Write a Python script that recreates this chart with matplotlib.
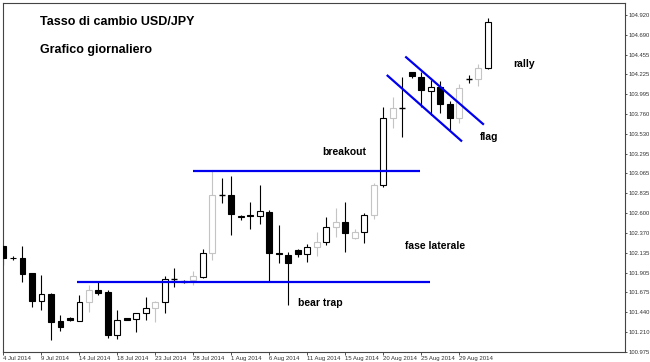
import matplotlib
matplotlib.use("Agg")
import matplotlib.pyplot as plt
from matplotlib import font_manager

# daily USD/JPY candles (open, high, low, close)
opens = [102.219, 102.075, 102.072, 101.896, 101.572, 101.654, 101.341, 101.376, 101.341, 101.557,
         101.701, 101.681, 101.174, 101.369, 101.361, 101.428, 101.486, 101.557, 101.829, 101.806,
         101.818, 101.856, 102.130, 102.813, 102.813, 102.552, 102.575, 102.567, 102.617, 102.130,
         102.110, 102.169, 102.122, 102.201, 102.259, 102.435, 102.500, 102.306, 102.376, 102.579,
         102.930, 103.711, 103.828, 104.253, 104.198, 104.034, 104.074, 103.878, 103.711, 104.171,
         104.167, 104.303]
highs = [102.228, 102.099, 102.219, 101.903, 101.876, 101.660, 101.408, 101.385, 101.642, 101.759,
         101.806, 101.701, 101.467, 101.373, 101.431, 101.622, 101.572, 101.865, 101.955, 101.812,
         101.927, 102.177, 103.097, 103.008, 103.035, 102.573, 102.734, 102.930, 102.637, 102.462,
         102.149, 102.177, 102.239, 102.383, 102.559, 102.657, 102.727, 102.415, 102.606, 102.950,
         103.843, 103.960, 104.191, 104.258, 104.256, 104.159, 104.151, 103.917, 104.112, 104.218,
         104.346, 104.881]
lows = [101.993, 102.052, 101.798, 101.505, 101.467, 101.115, 101.224, 101.343, 101.338, 101.447,
        101.642, 101.139, 101.127, 101.350, 101.212, 101.350, 101.330, 101.428, 101.740, 101.783,
        101.759, 101.838, 102.052, 102.723, 102.345, 102.520, 102.415, 102.474, 101.798, 102.013,
        101.525, 102.091, 102.032, 102.099, 102.228, 102.318, 102.149, 102.298, 102.254, 102.528,
        102.910, 103.594, 103.495, 104.179, 103.846, 103.749, 103.769, 103.574, 103.652, 104.127,
        104.089, 104.288]
closes = [102.079, 102.070, 101.885, 101.572, 101.650, 101.330, 101.271, 101.349, 101.564, 101.701,
          101.669, 101.174, 101.350, 101.353, 101.428, 101.486, 101.564, 101.826, 101.829, 101.791,
          101.865, 102.130, 102.813, 102.813, 102.587, 102.567, 102.563, 102.625, 102.130, 102.119,
          102.020, 102.122, 102.201, 102.259, 102.435, 102.500, 102.364, 102.383, 102.579, 102.930,
          103.711, 103.828, 103.828, 104.206, 104.042, 104.074, 103.878, 103.711, 104.062, 104.171,
          104.303, 104.835]

# candles drawn with a light grey outline in the original
grey_bars = [9, 16, 20, 22, 33, 35, 37, 39, 41, 48, 50]

price_ticks = [104.920, 104.690, 104.455, 104.225, 103.995, 103.760, 103.530, 103.295, 103.065,
               102.835, 102.600, 102.370, 102.135, 101.905, 101.675, 101.440, 101.210, 100.975]
date_ticks = [0, 4, 8, 12, 16, 20, 24, 28, 32, 36, 40, 44, 48]
date_labels = ["4 Jul 2014", "9 Jul 2014", "14 Jul 2014", "18 Jul 2014", "23 Jul 2014",
               "28 Jul 2014", "1 Aug 2014", "6 Aug 2014", "11 Aug 2014", "15 Aug 2014",
               "20 Aug 2014", "25 Aug 2014", "29 Aug 2014"]

# support / resistance and flag channel (bar index, price)
resistance = 103.097
resistance_x = [20.0, 43.9]
support = 101.789
support_x = [7.7, 44.9]
flag_top_x = [42.4, 50.5]
flag_top_y = [104.425, 103.644]
flag_bot_x = [40.45, 48.2]
flag_bot_y = [104.209, 103.448]

plt.rcParams['font.family'] = ['Liberation Sans', 'DejaVu Sans']

# narrow face for the tiny axis labels, if it is there
names = {f.name for f in font_manager.fontManager.ttflist}
tick_font = 'Liberation Sans Narrow' if 'Liberation Sans Narrow' in names else 'Liberation Sans'

fig = plt.figure(figsize=(6.5, 3.62), dpi=100)
ax = fig.add_axes([3/650, 10/362, 622/650, 349/362])

w = 0.62
for i in range(len(opens)):
    o, h, l, c = opens[i], highs[i], lows[i], closes[i]
    edge = '#c4c4c4' if i in grey_bars else 'black'
    ax.vlines(i, l, h, color=edge, lw=0.8, zorder=2)
    if abs(c - o) < 0.005:
        ax.hlines(c, i - w/2, i + w/2, color=edge, lw=1.0, zorder=3)
    elif c < o:
        ax.bar(i, o - c, bottom=c, width=w, color='black', edgecolor='black', lw=0.8, zorder=3)
    else:
        ax.bar(i, c - o, bottom=o, width=w, color='white', edgecolor=edge, lw=0.8, zorder=3)

blue = '#0000ee'
ax.hlines(resistance, resistance_x[0], resistance_x[1], color=blue, lw=1.6, zorder=4)
ax.hlines(support, support_x[0], support_x[1], color=blue, lw=1.6, zorder=4)
ax.plot(flag_top_x, flag_top_y, color=blue, lw=1.6, zorder=4)
ax.plot(flag_bot_x, flag_bot_y, color=blue, lw=1.6, zorder=4)

ax.set_xlim(-0.05, 65.45)
ax.set_ylim(100.975, 105.06)

ax.yaxis.tick_right()
ax.set_yticks(price_ticks)
ax.set_yticklabels([f"{v:.3f}" for v in price_ticks], fontfamily=tick_font)
ax.set_xticks(date_ticks)
ax.set_xticklabels(date_labels, ha='left', fontfamily=tick_font)
ax.tick_params(axis='y', labelsize=4.2, length=1.5, width=0.6, pad=1, colors='#333333')
ax.tick_params(axis='x', labelsize=4.3, length=2, width=0.6, pad=1, colors='#333333')
for s in ax.spines.values():
    s.set_color('#444444')
    s.set_linewidth(0.8)

# texts
fig.text(40/650, 1 - 22/362, "Tasso di cambio USD/JPY", fontsize=9, fontweight='bold', va='center')
fig.text(40/650, 1 - 50/362, "Grafico giornaliero", fontsize=9, fontweight='bold', va='center')
fig.text(513/650, 1 - 64/362, "rally", fontsize=7.5, fontweight='bold', va='center')
fig.text(480/650, 1 - 137/362, "flag", fontsize=7.5, fontweight='bold', va='center')
fig.text(322/650, 1 - 152/362, "breakout", fontsize=7.5, fontweight='bold', va='center')
fig.text(405/650, 1 - 246/362, "fase laterale", fontsize=7.5, fontweight='bold', va='center')
fig.text(298/650, 1 - 303/362, "bear trap", fontsize=7.5, fontweight='bold', va='center')

fig.savefig("out.png", dpi=100)
